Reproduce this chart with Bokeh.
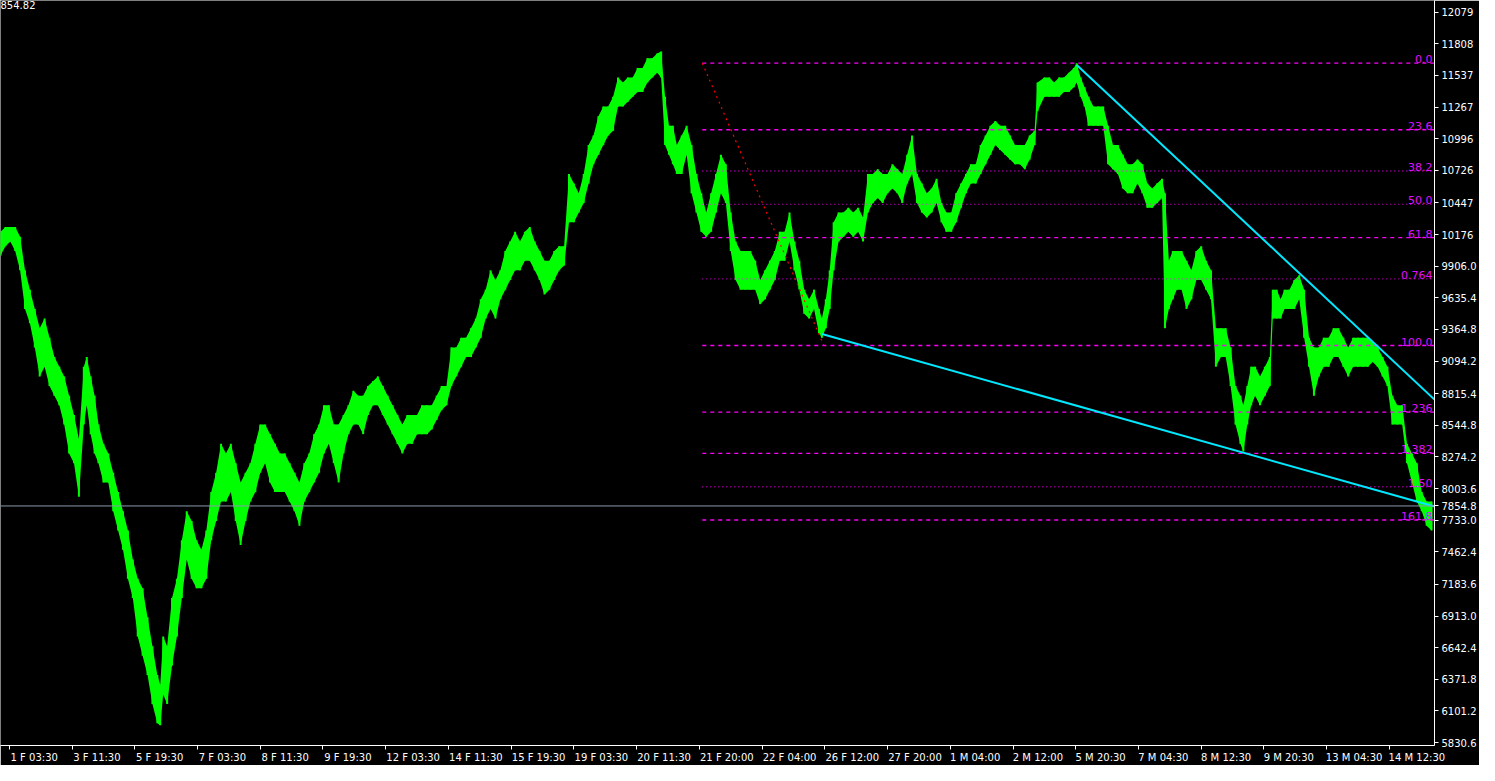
from bokeh.plotting import figure
from bokeh.models import Range1d, FixedTicker, Label, ColumnDataSource, LinearAxis
from bokeh.core.properties import value
from bokeh.embed import file_html
from bokeh.resources import INLINE

# ---- price series (bar index, high, low) ----
bar = [0, 5, 10, 15, 20, 25, 30, 35, 40, 45, 50, 55, 60, 65, 70, 75, 80, 85, 88, 92, 96,
       100, 105, 110, 115, 120, 125, 130, 135, 140, 145, 150, 155, 160, 163, 166, 170, 175,
       180, 185, 190, 195, 200, 205, 210, 215, 220, 225, 230, 235, 240, 245, 250, 255, 260,
       265, 270, 275, 280, 285, 290, 295, 300, 305, 310, 315, 320, 325, 330, 335, 340, 345,
       350, 355, 360, 365, 370, 375, 380, 385, 390, 395, 400, 405, 410, 415, 420, 425, 430,
       435, 440, 445, 450, 455, 460, 465, 470, 475, 480, 485, 490, 495, 500, 505, 510, 515,
       520, 525, 530, 535, 540, 545, 550, 555, 560, 565, 570, 575, 580, 585, 590, 595, 600,
       605, 610, 615, 620, 625, 630, 635, 640, 645, 650, 655, 660, 665, 670, 674, 678, 682,
       686, 690, 695, 700, 705, 710, 715, 720, 725, 730, 735, 740, 745, 750, 755, 760, 765,
       770, 775, 780, 785, 790, 795, 800, 805, 810, 815, 820, 825, 830, 835, 838, 842, 846,
       850, 855, 860, 865, 870, 875, 880, 885, 890, 895, 900, 905, 910, 915, 920, 925, 930,
       935, 940, 945, 950, 955, 960, 965, 970, 975, 980, 985, 990, 995, 1000, 1005, 1010,
       1015, 1020, 1025, 1030, 1035, 1040, 1045, 1050, 1055, 1058, 1065, 1070, 1075, 1080,
       1085, 1090, 1095, 1098, 1102, 1106, 1110, 1115, 1120, 1125, 1130, 1135, 1140, 1145,
       1150, 1155, 1160, 1165, 1170, 1175, 1180, 1185, 1188, 1192, 1196, 1200, 1205, 1210,
       1215, 1220, 1225, 1230, 1235, 1240, 1245, 1250, 1255, 1260, 1265, 1268, 1272, 1276,
       1280, 1285, 1290, 1295, 1298, 1302, 1306, 1310, 1315, 1320, 1325, 1330, 1335, 1340,
       1345, 1350, 1355, 1360, 1365, 1370, 1375, 1380, 1385, 1390, 1395, 1400, 1405, 1410,
       1415, 1420, 1425, 1430, 1435, 1440, 1445, 1450, 1455, 1460]

high = [10200, 10241, 10241, 10241, 10158, 9870, 9705, 9540, 9375, 9458, 9293, 9128, 9046,
        8963, 8798, 8633, 8427, 9046, 9128, 8963, 8798,
        8551, 8386, 8304, 8139, 7974, 7809, 7644, 7397, 7232, 7150, 6902, 6655, 6408, 6325,
        6738, 6655, 7067, 7232, 7562, 7809, 7727, 7562, 7480, 7644, 7974, 8139, 8386, 8304,
        8386, 8221, 8056, 8139, 8221, 8386, 8551, 8551, 8469, 8386, 8304, 8304, 8221, 8139,
        8056, 8221, 8304, 8469, 8551, 8716, 8716, 8551, 8551, 8633, 8716, 8840, 8798, 8798,
        8881, 8922, 8963, 8881, 8798, 8716, 8633, 8551, 8633, 8633, 8633, 8716, 8716, 8716,
        8798, 8881, 8881, 9211, 9211, 9293, 9293, 9375, 9458, 9623, 9705, 9870, 9788, 9870,
        10035, 10117, 10200, 10117, 10200, 10241, 10117, 10035, 9952, 9952, 10035, 10076,
        10076, 10694, 10612, 10529, 10694, 10942, 11024, 11189, 11271, 11271, 11354, 11519,
        11477, 11519, 11519, 11601, 11601, 11683, 11683, 11725, 11741, 11354, 11106, 11106,
        10942, 11024, 11106, 10942, 10694, 10529, 10365, 10529, 10694, 10859, 10777, 10365,
        10117, 10035, 10035, 10035, 9952, 9788, 9870, 9952, 10035, 10200, 10200, 10365, 10117,
        9952, 9705, 9623, 9705, 9540, 9458, 9623, 9870, 10282, 10365, 10365, 10406, 10365,
        10406, 10323, 10694, 10694, 10735, 10694, 10694, 10777, 10735, 10694, 10859, 11024,
        10694, 10612, 10529, 10571, 10653, 10447, 10365, 10365, 10529, 10612, 10694, 10777,
        10777, 10942, 11024, 11106, 11148, 11106, 11106, 11024, 10942, 10942, 10942, 11024,
        11065, 11477, 11519, 11519, 11477, 11519, 11519, 11560, 11601, 11642, 11519, 11436,
        11354, 11271, 11271, 11271, 11106, 10942, 10942, 10859, 10777, 10777, 10818, 10777,
        10612, 10571, 10612, 10653, 10529, 9952, 10035, 10035, 10035, 9952, 9870, 10035,
        10076, 9952, 9870, 9375, 9375, 9375, 9211, 8881, 8798, 8716, 8881, 9046, 9046, 8963,
        9046, 9128, 9705, 9705, 9623, 9705, 9705, 9788, 9829, 9705, 9293, 9211, 9211, 9293,
        9293, 9375, 9375, 9293, 9211, 9293, 9293, 9293, 9293, 9252, 9211, 9128, 9046, 8798,
        8716, 8716, 8386, 8304, 8221, 7974, 7892, 7892]

low = [9994, 10076, 10117, 10035, 9870, 9540, 9417, 9211, 8963, 9046, 8881, 8798, 8716,
       8551, 8304, 8221, 7933, 8551, 8716, 8469, 8304,
       8221, 8056, 8056, 7809, 7644, 7480, 7232, 7067, 6738, 6573, 6408, 6161, 5996, 5979,
       6243, 6161, 6490, 6738, 7067, 7397, 7232, 7150, 7150, 7232, 7562, 7727, 7892, 7892,
       7974, 7727, 7521, 7727, 7892, 7974, 8139, 8221, 8056, 7974, 7974, 7974, 7892, 7809,
       7686, 7892, 7974, 8056, 8139, 8304, 8386, 8221, 8056, 8304, 8469, 8551, 8551, 8469,
       8633, 8716, 8716, 8633, 8551, 8469, 8386, 8304, 8386, 8386, 8469, 8469, 8469, 8510,
       8592, 8675, 8716, 8881, 8963, 9046, 9128, 9128, 9211, 9293, 9458, 9540, 9458, 9623,
       9705, 9788, 9870, 9870, 9952, 9952, 9870, 9788, 9664, 9705, 9788, 9870,
       9911, 10282, 10282, 10365, 10447, 10612, 10777, 10859, 10942, 11024, 11065, 11271,
       11271, 11313, 11354, 11395, 11395, 11477, 11519, 11560, 11519, 10942, 10859, 10777,
       10694, 10694, 10859, 10529, 10365, 10200, 10158, 10200, 10365, 10529, 10447, 10035,
       9788, 9705, 9705, 9705, 9705, 9581, 9623, 9705, 9788, 9952, 9952, 10117, 9870,
       9705, 9499, 9458, 9540, 9334, 9293, 9375, 9540, 9870, 10117, 10158, 10200, 10158,
       10200, 10117, 10365, 10447, 10488, 10447, 10529, 10571, 10529, 10447, 10612, 10694,
       10447, 10365, 10323, 10365, 10447, 10282, 10200, 10200, 10282, 10406, 10529, 10612,
       10612, 10694, 10777, 10859, 10942, 10900, 10859, 10818, 10777, 10777, 10735, 10818,
       10942, 11230, 11354, 11354, 11354, 11354, 11395, 11395, 11436, 11477, 11354, 11271,
       11106, 11106, 11106, 11106, 10777, 10735, 10694, 10571, 10529, 10529, 10612, 10529,
       10406, 10406, 10447, 10488, 9375, 9540, 9623, 9705, 9705, 9540, 9623, 9788,
       9788, 9705, 9623, 9046, 9128, 9128, 8881, 8551, 8386, 8320, 8551, 8716, 8798, 8716,
       8798, 8881, 9458, 9458, 9458, 9540, 9540, 9540, 9623, 9293, 9046, 8798, 8963, 9046,
       9046, 9128, 9128, 9046, 8963, 9046, 9046, 9046, 9046, 9087, 9046, 8963, 8881, 8551,
       8551, 8551, 8221, 8056, 7892, 7809, 7686, 7644]

# ---- Fibonacci object ----
fib_ratios = [0.0, 0.236, 0.382, 0.5, 0.618, 0.764, 1.0, 1.236, 1.382, 1.5, 1.618]
fib_texts = ["0.0", "23.6", "38.2", "50.0", "61.8", "0.764", "100.0", "1.236", "1.382", "1.50", "161.8"]
fib_strong = [True, True, False, False, True, False, True, True, True, False, True]
fib_high, fib_high_bar = 11642, 716
fib_low, fib_low_bar = 9227, 840

# ---- trend lines ----
lower_line_bars = [838, 1463]
lower_line_prices = [9326, 7850]
upper_line_bars = [1098, 1463]
upper_line_prices = [11626, 8765]

# ---- current price ----
last_price = 7854.8
last_price_text = "7854.8"
corner_text = "854.82"

# ---- axes ----
price_ticks = [12079, 11808, 11537, 11267, 10996, 10726, 10447, 10176, 9906.0, 9635.4,
               9364.8, 9094.2, 8815.4, 8544.8, 8274.2, 8003.6, 7733.0, 7462.4, 7183.6,
               6913.0, 6642.4, 6371.8, 6101.2, 5830.6]
price_tick_labels = ["12079", "11808", "11537", "11267", "10996", "10726", "10447", "10176",
                     "9906.0", "9635.4", "9364.8", "9094.2", "8815.4", "8544.8", "8274.2",
                     "8003.6", "7733.0", "7462.4", "7183.6", "6913.0", "6642.4", "6371.8",
                     "6101.2", "5830.6"]
time_ticks = [9, 73, 137, 201, 265, 329, 393, 457, 521, 585, 649, 713, 777, 841, 905, 969,
              1033, 1097, 1161, 1225, 1289, 1353, 1417]
time_tick_labels = ["1 F 03:30", "3 F 11:30", "5 F 19:30", "7 F 03:30", "8 F 11:30",
                    "9 F 19:30", "12 F 03:30", "14 F 11:30", "15 F 19:30", "19 F 03:30",
                    "20 F 11:30", "21 F 20:00", "22 F 04:00", "26 F 12:00", "27 F 20:00",
                    "1 M 04:00", "2 M 12:00", "5 M 20:30", "7 M 04:30", "8 M 12:30",
                    "9 M 20:30", "13 M 04:30", "14 M 12:30"]

FONT = "DejaVu Sans"
GREEN = "#00ff00"
MAGENTA = "#ff00ff"
CYAN = "#00e8ff"

p = figure(width=1479, height=765, output_backend="svg", toolbar_location=None,
           x_range=Range1d(0, 1463), y_range=Range1d(5806, 12178),
           y_axis_location="right", x_axis_location=None,
           background_fill_color="black",
           border_fill_color="black", outline_line_color=None,
           min_border_left=0, min_border_top=0, min_border_right=0, min_border_bottom=0)
p.grid.visible = False

src = ColumnDataSource(dict(x=bar, hi=high, lo=low))
p.varea(x="x", y1="lo", y2="hi", source=src, fill_color=GREEN)
p.segment(x0="x", y0="lo", x1="x", y1="hi", source=src, line_color=GREEN, line_width=2)

# Fibonacci levels
rng = fib_high - fib_low
for r, t, strong in zip(fib_ratios, fib_texts, fib_strong):
    lvl = fib_high - r * rng
    p.line([fib_high_bar, 1463], [lvl, lvl], line_color=MAGENTA,
           line_dash="4 4" if strong else "1 3", line_width=1.4,
           line_alpha=1.0 if strong else 0.75)
    p.text(x=[1461], y=[lvl], text=[t], text_color="#e010ff", text_align="right",
           text_baseline="bottom", text_font=value(FONT), text_font_size="11px")

p.line([fib_high_bar, fib_low_bar], [fib_high, fib_low], line_color="#ff0000",
       line_dash="2 4", line_width=1.2)

# trend lines
p.line(lower_line_bars, lower_line_prices, line_color=CYAN, line_width=2)
p.line(upper_line_bars, upper_line_prices, line_color=CYAN, line_width=2)

# current price line
p.line([0, 1463], [last_price, last_price], line_color="#8a9aaa", line_width=1)

# right price axis (current price shown as an extra label)
ya = p.yaxis[0]
all_ticks = price_ticks + [last_price]
all_labels = price_tick_labels + [last_price_text]
ya.ticker = FixedTicker(ticks=all_ticks)
ya.major_label_overrides = {v: s for v, s in zip(all_ticks, all_labels)}

# bottom time axis: tick marks as minor ticks, labels left-aligned to them
label_pos = [t + 2.6 * len(s) + 2 for t, s in zip(time_ticks, time_tick_labels)]
xa = LinearAxis(ticker=FixedTicker(ticks=label_pos, minor_ticks=time_ticks),
                major_label_overrides={v: s for v, s in zip(label_pos, time_tick_labels)},
                major_tick_line_color=None, minor_tick_line_color="white",
                minor_tick_in=0, minor_tick_out=4, major_tick_in=0, major_tick_out=4)
p.add_layout(xa, "below")

for ax in (ya, xa):
    ax.axis_line_color = "white"
    ax.major_label_text_color = "white"
    ax.major_label_text_font = FONT
    ax.major_label_text_font_size = "10px"
ya.major_tick_line_color = "white"
ya.minor_tick_line_color = None
ya.major_tick_in = 0
ya.major_tick_out = 4
ya.major_label_standoff = 3
xa.major_label_standoff = 2

p.add_layout(Label(x=0, y=12178, text=corner_text, text_baseline="top",
                   text_color="white", text_font=FONT, text_font_size="10px"))

open("out.html", "w").write(file_html(p, INLINE))
